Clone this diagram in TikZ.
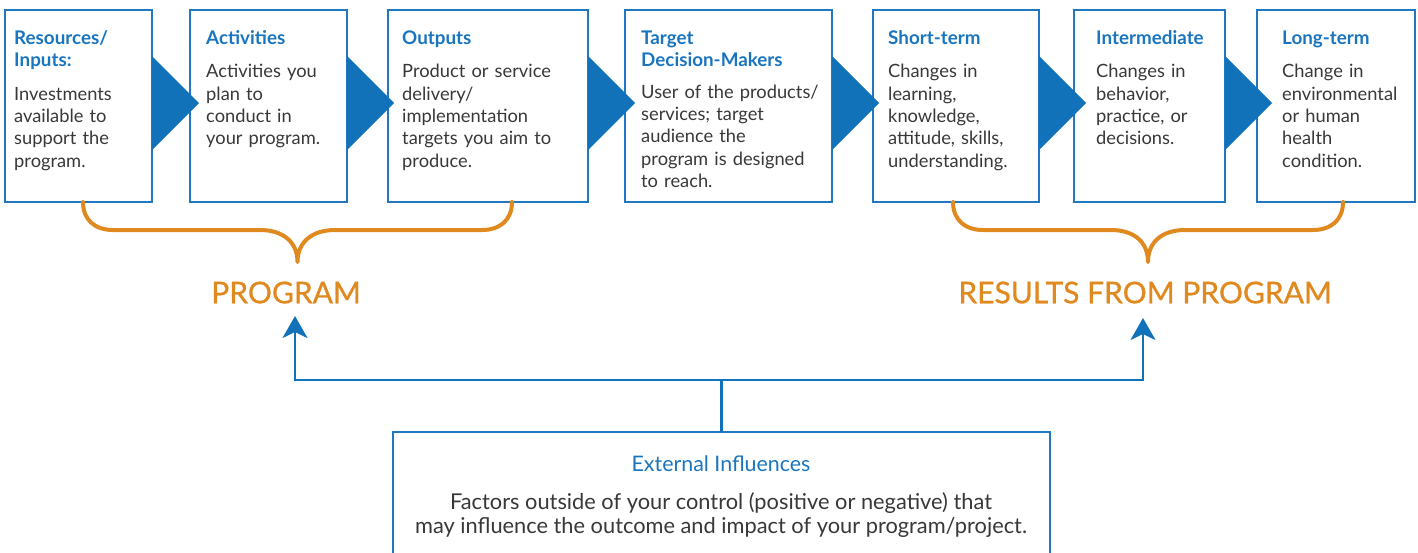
\documentclass[tikz,border=0pt]{standalone}
\usepackage{fontspec}
\setmainfont{Lato}
\newfontfamily\medfont[FakeBold=0.8]{Lato}
\usetikzlibrary{arrows.meta,calc}
\definecolor{bord}{HTML}{1F78C1}
\definecolor{tri}{HTML}{1171B9}
\definecolor{ttl}{HTML}{1A75BF}
\definecolor{org}{HTML}{E0891F}
\definecolor{txt}{HTML}{383838}
\newcommand\boxtitle[1]{{\fontsize{18.8}{22}\selectfont\bfseries\color{ttl}#1}}
\begin{document}
\begin{tikzpicture}[x=1pt,y=-1pt,
  box/.style={draw=bord, line width=1.4pt, minimum height=192pt, inner sep=0pt, outer sep=0pt, anchor=north west},
  tx/.style={anchor=north west, inner sep=0pt, text width=220pt, align=left, font=\fontsize{18.3}{22.3}\selectfont, text=txt},
  tri/.style={fill=tri},
  brace/.style={draw=org, line width=4pt, line cap=round, line join=round},
  lbl/.style={anchor=base, inner sep=0pt, text=org, font=\medfont\fontsize{30}{32}\selectfont},
  arr/.style={draw=tri, line width=2.6pt, -{Stealth[length=22pt,width=25pt,inset=6pt]}}]
\useasboundingbox (0,0) rectangle (1418,552);
\clip (0,0) rectangle (1418,552);
% boxes
\node[box, minimum width=147pt] (b1) at (5,10) {};
\node[box, minimum width=157pt] (b2) at (190,10) {};
\node[box, minimum width=200pt] (b3) at (388,10) {};
\node[box, minimum width=207pt] (b4) at (625,10) {};
\node[box, minimum width=166pt] (b5) at (873,10) {};
\node[box, minimum width=151pt] (b6) at (1074,10) {};
\node[box, minimum width=158pt] (b7) at (1257,10) {};
% triangles
\foreach \b in {b1,b2,b3,b4,b5,b6}{
  \fill[tri] ($(\b.north east)+(0,46)$) -- ($(\b.north east)+(47,93)$) -- ($(\b.north east)+(0,140)$) -- cycle;
}
% texts
\node[tx] (t1) at (14,28.7) {\strut\boxtitle{Resources/\\Inputs:}\\[11pt]Investments\\available to\\support the\\program.};
\node[tx] (t2) at (206,28.7) {\strut\boxtitle{Activities}\\[11pt]Activities you\\plan to\\conduct in\\your program.};
\node[tx] (t3) at (402,28.7) {\strut\boxtitle{Outputs}\\[11pt]Product or service\\delivery/\\implementation\\targets you aim to\\produce.};
\node[tx] (t4) at (641,28.7) {\strut\boxtitle{Target\\Decision-Makers}\\[9pt]User of the products/\\services; target\\audience the\\program is designed\\to reach.};
\node[tx] (t5) at (888,28.7) {\strut\boxtitle{Short-term}\\[11pt]Changes in\\learning,\\knowledge,\\attitude, skills,\\understanding.};
\node[tx] (t6) at (1096,28.7) {\strut\boxtitle{Intermediate}\\[11pt]Changes in\\behavior,\\practice, or\\decisions.};
\node[tx] (t7) at (1282,28.7) {\strut\boxtitle{Long-term}\\[11pt]Change in\\environmental\\or human\\health\\condition.};
% braces
\draw[brace] (83,202) .. controls (83,220) and (95,230) .. (113,230) -- (260,230)
  .. controls (283,230) and (297.5,242) .. (297.5,262)
  .. controls (297.5,242) and (312,230) .. (335,230) -- (482,230)
  .. controls (500,230) and (512,220) .. (512,202);
\draw[brace] (953,202) .. controls (953,220) and (965,230) .. (983,230) -- (1111,230)
  .. controls (1134,230) and (1148,242) .. (1148,262)
  .. controls (1148,242) and (1162,230) .. (1185,230) -- (1313,230)
  .. controls (1331,230) and (1343,220) .. (1343,202);
% labels
\node[lbl] (prog) at (286,303.3) {PROGRAM};
\node[lbl] (res) at (1145,303.3) {RESULTS FROM PROGRAM};
% external box
\node[box, minimum width=657pt, minimum height=150pt] (ext) at (393,432) {};
\node[anchor=base, inner sep=0pt, text=ttl, font=\fontsize{21.4}{24}\selectfont] (extt) at (721,471.7) {External Influences};
\node[anchor=north, inner sep=0pt, align=center, text=txt, font=\fontsize{21.8}{23.7}\selectfont] (extb) at (721,492.4) {\strut Factors outside of your control (positive or negative) that\\may influence the outcome and impact of your program/project.};
% arrows
\coordinate (split) at (ext.north |- 0,380);
\coordinate (aL) at (295,316);
\coordinate (aR) at (1143,318);
\draw[arr] (ext.north) -- (split) -| (aL);
\draw[arr] (split) -| (aR);
\end{tikzpicture}
\end{document}
